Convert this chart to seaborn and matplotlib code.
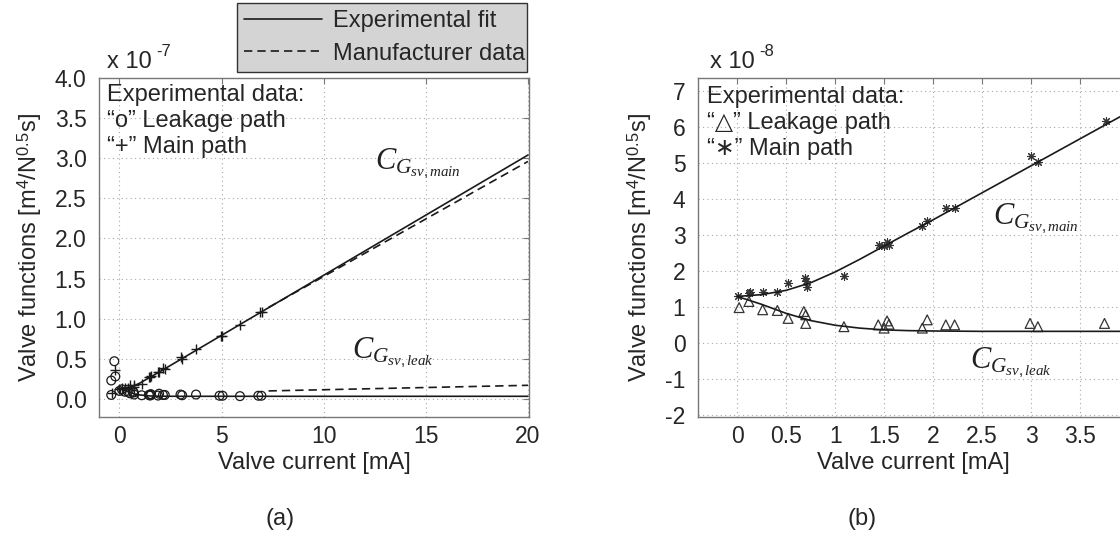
import numpy as np
import pandas as pd
import seaborn as sns
import matplotlib.pyplot as plt

# panel (a): valve current [mA] vs valve functions [x 1e-7 m^4/N^0.5 s]
a_leak_x = [-0.4, -0.25, -0.2, -0.4, 0.0, 0.12, 0.26, 0.41, 0.52, 0.68, 0.7, 0.72,
            1.09, 1.44, 1.5, 1.53, 1.55, 1.89, 1.94, 2.13, 2.22, 2.99, 3.07, 3.75,
            4.9, 5.05, 5.9, 6.8, 6.95]
a_leak_y = [0.05, 0.47, 0.28, 0.23, 0.10, 0.12, 0.09, 0.09, 0.07, 0.09, 0.08, 0.055,
            0.046, 0.05, 0.042, 0.06, 0.053, 0.042, 0.065, 0.05, 0.05, 0.055, 0.046, 0.055,
            0.04, 0.04, 0.035, 0.04, 0.04]
a_main_x = [-0.2, -0.35, 0.0, 0.12, 0.26, 0.41, 0.52, 0.69, 0.7, 1.09, 1.45, 1.5, 1.53,
            1.89, 1.94, 2.13, 2.22, 3.0, 3.07, 3.77, 4.95, 5.0, 5.9, 6.86, 6.96]
a_main_y = [0.36, 0.08, 0.13, 0.14, 0.14, 0.14, 0.17, 0.18, 0.155, 0.19, 0.27, 0.27, 0.28,
            0.33, 0.34, 0.38, 0.375, 0.52, 0.50, 0.62, 0.79, 0.78, 0.925, 1.08, 1.08]
a_fit_x = [0, 0.25, 0.5, 0.75, 1.0, 1.5, 2.0, 3.0, 4.0, 20]
a_fit_main = [0.13, 0.135, 0.147, 0.168, 0.198, 0.27, 0.343, 0.493, 0.643, 3.04]
a_fit_leak = [0.13, 0.11, 0.082, 0.062, 0.05, 0.037, 0.034, 0.033, 0.033, 0.033]
a_mfr_x = [7.3, 20]
a_mfr_main = [1.14, 2.96]
a_mfr_leak = [0.10, 0.17]

# panel (b): zoom on low currents [x 1e-8]
b_leak_x = [0.02, 0.12, 0.26, 0.41, 0.52, 0.68, 0.7, 0.7, 1.09, 1.44, 1.5, 1.53, 1.55,
            1.89, 1.94, 2.13, 2.22, 2.99, 3.07, 3.75]
b_leak_y = [0.99, 1.16, 0.93, 0.91, 0.69, 0.88, 0.79, 0.55, 0.46, 0.51, 0.42, 0.62, 0.53,
            0.42, 0.65, 0.51, 0.51, 0.55, 0.46, 0.55]
b_main_x = [0.01, 0.12, 0.13, 0.26, 0.41, 0.52, 0.69, 0.7, 0.71, 1.09, 1.45, 1.5, 1.53,
            1.55, 1.89, 1.94, 2.13, 2.22, 3.0, 3.07, 3.77]
b_main_y = [1.3, 1.39, 1.43, 1.41, 1.43, 1.67, 1.81, 1.73, 1.55, 1.88, 2.73, 2.69, 2.8,
            2.73, 3.27, 3.41, 3.77, 3.75, 5.19, 5.03, 6.17]
b_fit_x = [0, 0.25, 0.5, 0.75, 1.0, 1.25, 1.5, 1.75, 2.0, 2.5, 3.0, 3.5, 4.0]
b_fit_main = [1.3, 1.35, 1.47, 1.68, 1.98, 2.33, 2.7, 3.07, 3.43, 4.18, 4.93, 5.68, 6.43]
b_fit_leak = [1.3, 1.08, 0.83, 0.63, 0.5, 0.42, 0.37, 0.35, 0.34, 0.33, 0.33, 0.33, 0.33]

sns.set_style("white")
plt.rcParams['font.family'] = ['Liberation Sans', 'DejaVu Sans']
plt.rcParams['mathtext.fontset'] = 'custom'
plt.rcParams['mathtext.rm'] = 'Liberation Sans'
plt.rcParams['mathtext.it'] = 'Liberation Serif:italic'
plt.rcParams['axes.unicode_minus'] = False
FS = 17
TS = 16.5
LC = '#1a1a1a'

fig = plt.figure(figsize=(11.2, 5.37), dpi=100)
W, H = 1120, 537
TOP, BOT = 78, 417
ax1 = fig.add_axes([99 / W, 1 - BOT / H, 430 / W, (BOT - TOP) / H])
ax2 = fig.add_axes([698 / W, 1 - BOT / H, 430 / W, (BOT - TOP) / H])

def style(ax):
    for s in ax.spines.values():
        s.set_color('#777777')
        s.set_linewidth(1.0)
    ax.grid(True, linestyle=(0, (1, 3)), color='#a8a8a8', linewidth=0.8)
    ax.tick_params(direction='in', length=4, color='#777777', labelsize=TS, pad=9,
                   top=True, right=True, labeltop=False, labelright=False)
    ax.tick_params(axis='x', pad=6)
    ax.set_xlabel('Valve current [mA]', fontsize=FS, labelpad=3)
    ax.set_ylabel(r'Valve functions [m$^{4}$/N$^{0.5}$s]', fontsize=FS, labelpad=8)

def fy(y):
    return (BOT - y) / (BOT - TOP)

# ---- (a)
sns.lineplot(x=a_fit_x, y=a_fit_main, ax=ax1, color=LC, lw=1.2, estimator=None, sort=False,
             label='Experimental fit')
sns.lineplot(x=a_fit_x, y=a_fit_leak, ax=ax1, color=LC, lw=1.2, estimator=None, sort=False)
ax1.plot(a_mfr_x, a_mfr_main, color=LC, lw=1.2, dashes=(5, 3), label='Manufacturer data')
ax1.plot(a_mfr_x, a_mfr_leak, color=LC, lw=1.2, dashes=(5, 3))
sns.scatterplot(x=a_leak_x, y=a_leak_y, ax=ax1, marker='o', s=40, facecolors='none',
                edgecolor=LC, linewidth=0.9)
sns.scatterplot(x=a_main_x, y=a_main_y, ax=ax1, marker='+', s=45, color=LC, linewidth=1.0)
ax1.set_xlim(-1.0, 20.05)
ax1.set_ylim(-0.225, 4.0)
ax1.set_xticks([0, 5, 10, 15, 20])
ax1.set_yticks(np.arange(0, 4.01, 0.5))
ax1.set_yticklabels([f'{v:.1f}' for v in np.arange(0, 4.01, 0.5)])
style(ax1)
ax1.text(0.018, fy(95), 'Experimental data:', transform=ax1.transAxes, fontsize=FS, va='center')
ax1.text(0.018, fy(121), '\u201co\u201d Leakage path', transform=ax1.transAxes, fontsize=FS, va='center')
ax1.text(0.018, fy(147), '\u201c+\u201d Main path', transform=ax1.transAxes, fontsize=FS, va='center')
ax1.text(12.5, 2.93, r'$C_{G_{sv,main}}$', fontsize=22, va='center', color='#222222')
ax1.text(11.4, 0.575, r'$C_{G_{sv,leak}}$', fontsize=22, va='center', color='#222222')
fig.text(107 / W, 1 - 62 / H, 'x 10', fontsize=FS, va='center')
fig.text(156 / W, 1 - 52 / H, '-7', fontsize=12, va='center')

h, l = ax1.get_legend_handles_labels()
leg = ax1.legend(h, l, loc='upper left', bbox_to_anchor=(237 / W, 1 - 72 / H, 290 / W, 69 / H),
                 bbox_transform=fig.transFigure, mode='expand', borderaxespad=0, fontsize=FS,
                 handlelength=3.3, handletextpad=0.45, fancybox=False, framealpha=1,
                 facecolor='#d4d4d4', edgecolor='#333333', borderpad=0.3, labelspacing=0.45)
leg.get_frame().set_linewidth(1.0)

# ---- (b)
sns.lineplot(x=b_fit_x, y=b_fit_main, ax=ax2, color=LC, lw=1.2, estimator=None, sort=False)
sns.lineplot(x=b_fit_x, y=b_fit_leak, ax=ax2, color=LC, lw=1.2, estimator=None, sort=False)
sns.scatterplot(x=b_leak_x, y=b_leak_y, ax=ax2, marker='^', s=50, facecolors='none',
                edgecolor='#333333', linewidth=0.9)
sns.scatterplot(x=b_main_x, y=b_main_y, ax=ax2, marker=(8, 2, 0), s=32, color='#333333',
                linewidth=0.8)
ax2.set_xlim(-0.4, 3.99)
ax2.set_ylim(-2.05, 7.37)
ax2.set_xticks([0, 0.5, 1, 1.5, 2, 2.5, 3, 3.5])
ax2.set_xticklabels(['0', '0.5', '1', '1.5', '2', '2.5', '3', '3.5'])
ax2.set_yticks(range(-2, 8))
style(ax2)
ax2.text(0.021, fy(97), 'Experimental data:', transform=ax2.transAxes, fontsize=FS, va='center')
ax2.text(0.021, fy(123), '\u201c\u25b3\u201d Leakage path', transform=ax2.transAxes, fontsize=FS, va='center')
ax2.text(0.021, fy(149), '\u201c\u2217\u201d Main path', transform=ax2.transAxes, fontsize=FS, va='center')
ax2.text(2.61, 3.47, r'$C_{G_{sv,main}}$', fontsize=22, va='center', color='#222222')
ax2.text(2.38, -0.53, r'$C_{G_{sv,leak}}$', fontsize=22, va='center', color='#222222')
fig.text(710 / W, 1 - 62 / H, 'x 10', fontsize=FS, va='center')
fig.text(759 / W, 1 - 52 / H, '-8', fontsize=12, va='center')

fig.text(280 / W, 1 - 519 / H, '(a)', fontsize=FS, ha='center', va='center')
fig.text(862 / W, 1 - 519 / H, '(b)', fontsize=FS, ha='center', va='center')

fig.savefig('out.png', dpi=100)
